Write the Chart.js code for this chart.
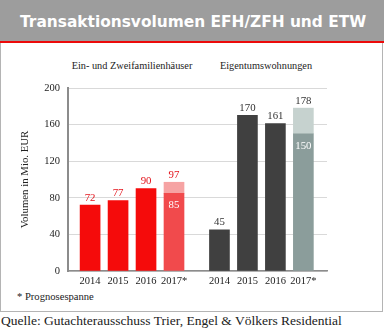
<!DOCTYPE html>
<html lang="de">
<head>
<meta charset="utf-8">
<title>Transaktionsvolumen EFH/ZFH und ETW</title>
<script src="https://cdn.jsdelivr.net/npm/chart.js@4.4.1/dist/chart.umd.min.js"></script>
<style>
    html, body { margin: 0; padding: 0; background: #fff; }
    body { width: 384px; height: 330px; position: relative; overflow: hidden; font-family: "Liberation Serif", serif; color: #222; }
    .box { position: absolute; left: 0; top: 0; width: 381px; height: 311px; border: 1.5px solid #b4b4b4; border-top: none; }
    .header { position: absolute; left: 0; top: 0; width: 384px; height: 41px; background: #9d9d9d; border-bottom: 2px solid #ec0a0a; }
    .header h1 { margin: 0; position: absolute; left: 20px; top: 13px; font: bold 15.4px "DejaVu Sans", sans-serif; color: #fff; white-space: nowrap; }
    .sub { position: absolute; top: 60px; font-size: 10.3px; white-space: nowrap; transform: translateX(-50%); }
    .note { position: absolute; left: 17px; top: 291px; font-size: 10.6px; }
    .source { position: absolute; left: 1px; top: 313px; font-size: 13.5px; white-space: nowrap; }
    #wrap { position: absolute; left: 0; top: 70px; width: 340px; height: 221px; }
</style>
</head>
<body>
<div class="box"></div>
<div class="header"><h1>Transaktionsvolumen EFH/ZFH und ETW</h1></div>
<div class="sub" style="left:132px">Ein- und Zweifamilienhäuser</div>
<div class="sub" style="left:266px">Eigentumswohnungen</div>
<div id="wrap"><canvas id="volChart"></canvas></div>
<div class="note">* Prognosespanne</div>
<div class="source">Quelle: Gutachterausschuss Trier, Engel &amp; Völkers Residential</div>

<script>
// Daten (Mio. EUR)
const years = ["2014", "2015", "2016", "2017*"];
const efhValues = [72, 77, 90, 85];     // Ein- und Zweifamilienhäuser, 2017 = Untergrenze
const efhForecastTop = 97;               // Obergrenze Prognose 2017
const etwValues = [45, 170, 161, 150];  // Eigentumswohnungen
const etwForecastTop = 178;
const yTicks = [0, 40, 80, 120, 160, 200];

// Abstand der zweiten Gruppe auf der linearen x-Achse
const groupShift = 4.625;

const efhColor = "#f50b0b";
const efhBaseForecast = "#f14a4c";
const efhTopForecast = "#f6a3a3";
const etwColor = "#404040";
const etwBaseForecast = "#8b9d9b";
const etwTopForecast = "#c6d2cf";

const lastIdx = years.length - 1;
const positions = [];
const tickLabels = [];
const baseData = [];
const spreadData = [];
const baseColors = [];
const spreadColors = [];
const labelColors = [];

[[efhValues, efhForecastTop, efhColor, efhBaseForecast, efhTopForecast, "#e3131b"],
 [etwValues, etwForecastTop, etwColor, etwBaseForecast, etwTopForecast, "#333333"]].forEach((g, gi) => {
    const [vals, top, col, baseF, topF, lblCol] = g;
    vals.forEach((v, i) => {
        const x = i + gi * groupShift;
        positions.push(x);
        tickLabels.push(years[i]);
        baseData.push({ x: x, y: v });
        baseColors.push(i === lastIdx ? baseF : col);
        spreadData.push({ x: x, y: i === lastIdx ? top - v : null });
        spreadColors.push(topF);
        labelColors.push(lblCol);
    });
});

// Wertbeschriftungen über bzw. in den Balken
const valueLabels = {
    id: "valueLabels",
    afterDatasetsDraw(chart) {
        const ctx = chart.ctx;
        const baseMeta = chart.getDatasetMeta(0);
        const spreadMeta = chart.getDatasetMeta(1);
        ctx.save();
        ctx.font = "10.8px 'Liberation Serif', serif";
        ctx.textAlign = "center";
        baseMeta.data.forEach((bar, i) => {
            const base = baseData[i].y;
            const spread = spreadData[i].y;
            ctx.fillStyle = labelColors[i];
            if (spread) {
                const topBar = spreadMeta.data[i];
                ctx.textBaseline = "bottom";
                ctx.fillText(String(base + spread), topBar.x, topBar.y - 2);
                ctx.fillStyle = "#ffffff";
                ctx.textBaseline = "top";
                ctx.fillText(String(base), bar.x, bar.y + 7);
            } else {
                ctx.textBaseline = "bottom";
                ctx.fillText(String(base), bar.x, bar.y - 2);
            }
        });
        ctx.restore();
    }
};

new Chart(document.getElementById("volChart"), {
    type: "bar",
    data: {
        datasets: [
            { label: "Volumen", data: baseData, backgroundColor: baseColors, barThickness: 20 },
            { label: "Prognosespanne", data: spreadData, backgroundColor: spreadColors, barThickness: 20 }
        ]
    },
    options: {
        responsive: true,
        maintainAspectRatio: false,
        animation: false,
        devicePixelRatio: 1,
        layout: { padding: { top: 18, right: 13, left: 0, bottom: 0 } },
        plugins: {
            legend: { display: false },
            tooltip: { enabled: false }
        },
        scales: {
            x: {
                type: "linear",
                stacked: true,
                offset: false,
                min: -0.79,
                max: 8.47,
                afterBuildTicks: (scale) => { scale.ticks = positions.map(v => ({ value: v })); },
                afterFit: (scale) => { scale.height = 20; },
                grid: { display: false, drawTicks: false, offset: false },
                border: { color: "#8c8c8c", width: 1.5 },
                ticks: {
                    padding: 4,
                    color: "#222",
                    font: { family: "'Liberation Serif', serif", size: 10.5 },
                    autoSkip: false,
                    maxRotation: 0,
                    callback: (value, index) => tickLabels[index]
                }
            },
            y: {
                stacked: true,
                min: 0,
                max: 200,
                afterBuildTicks: (scale) => { scale.ticks = yTicks.map(v => ({ value: v })); },
                afterFit: (scale) => { scale.width = 68; },
                grid: { color: "#d9d9d9", lineWidth: 1, drawTicks: false },
                border: { color: "#8c8c8c", width: 2 },
                ticks: {
                    padding: 8,
                    color: "#222",
                    font: { family: "'Liberation Serif', serif", size: 10.5 }
                },
                title: {
                    display: true,
                    text: "Volumen in Mio. EUR",
                    color: "#222",
                    font: { family: "'Liberation Serif', serif", size: 10.8 },
                    padding: { top: 19, bottom: 0 }
                }
            }
        }
    },
    plugins: [valueLabels]
});
</script>
</body>
</html>
